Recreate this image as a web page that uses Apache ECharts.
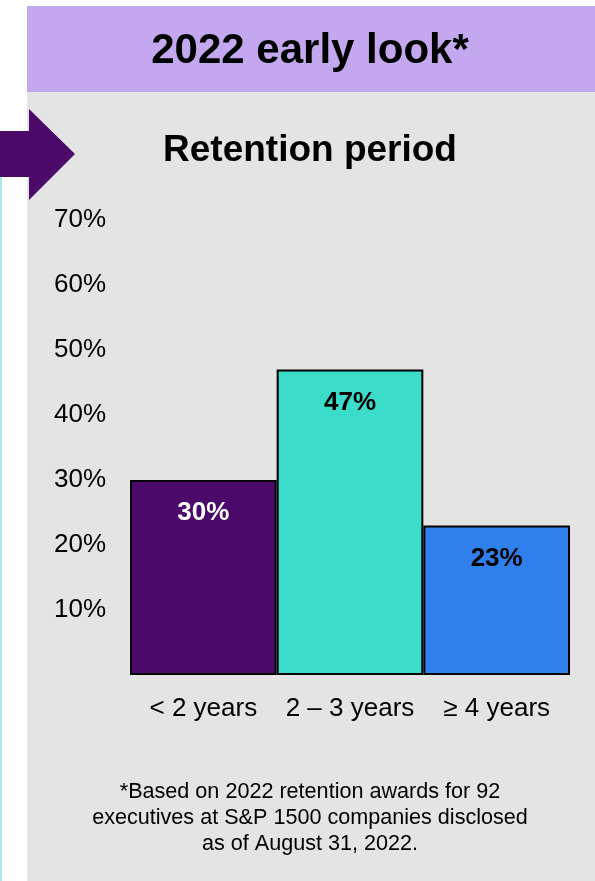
<!DOCTYPE html>
<html>
  <head>
    <meta charset="utf-8" />
    <title>ECharts</title>
    <script src="https://cdn.jsdelivr.net/npm/echarts@6/dist/echarts.min.js"></script>
    <style>
      html, body { margin: 0; padding: 0; background: #fff; }
    </style>
  </head>
  <body>
    <div id="main" style="width: 595px;height:881px;"></div>
    <script type="text/javascript">
      // data
      var categories = ['< 2 years', '2 – 3 years', '≥ 4 years'];
      var shares = [30, 47, 23];
      var barColors = ['#4b0a6a', '#3cdccb', '#2f80ed'];
      var labelColors = ['#ffffff', '#000000', '#000000'];
      var footnote = [
        '*Based on 2022 retention awards for 92',
        'executives at S&P 1500 companies disclosed',
        'as of August 31, 2022.'
      ];

      var myChart = echarts.init(document.getElementById('main'));
      var font = '"Liberation Sans", Arial, sans-serif';

      function centerText(str, y, size, bold) {
        return {
          type: 'text',
          style: {
            text: str, x: 310, y: y,
            textAlign: 'center', textVerticalAlign: 'middle',
            font: (bold ? 'bold ' : '') + size + 'px ' + font,
            fill: '#000'
          }
        };
      }

      var graphics = [
        // grey panel + purple header
        { type: 'rect', z: -10, shape: { x: 27, y: 92, width: 568, height: 789 }, style: { fill: '#e4e4e4' } },
        { type: 'rect', z: -10, shape: { x: 27, y: 6, width: 568, height: 86 }, style: { fill: '#c3a8f0' } },
        // thin cyan rule on the left edge
        { type: 'rect', z: -10, shape: { x: 0, y: 177, width: 2, height: 704 }, style: { fill: '#a8e8e8' } },
        // arrow
        {
          type: 'polygon', z: -5,
          shape: { points: [[0, 131], [29, 131], [29, 109], [75, 154], [29, 200], [29, 177], [0, 177]] },
          style: { fill: '#4b0a6a' }
        },
        centerText('2022 early look*', 51, 42, true),
        centerText('Retention period', 151, 37, true)
      ];
      footnote.forEach(function (line, i) {
        graphics.push(centerText(line, 792 + i * 26, 21.6, false));
      });

      option = {
        backgroundColor: '#ffffff',
        textStyle: { fontFamily: font },
        graphic: graphics,
        grid: { left: 130, right: 25, top: 220, bottom: 206, containLabel: false },
        xAxis: {
          type: 'category',
          data: categories,
          axisLine: { show: false },
          axisTick: { show: false },
          axisLabel: { color: '#000', fontSize: 26, margin: 21, interval: 0, fontFamily: font }
        },
        yAxis: {
          type: 'value',
          min: 0, max: 70, interval: 10,
          splitLine: { show: false },
          axisLine: { show: false },
          axisTick: { show: false },
          axisLabel: {
            color: '#000', fontSize: 26, margin: 24, fontFamily: font,
            showMinLabel: false,
            formatter: '{value}%'
          }
        },
        series: [{
          type: 'bar',
          barCategoryGap: '0%',
          data: shares.map(function (v, i) {
            return {
              value: v,
              itemStyle: { color: barColors[i] },
              label: { color: labelColors[i] }
            };
          }),
          itemStyle: { borderColor: '#000', borderWidth: 2 },
          label: {
            show: true,
            position: 'insideTop',
            distance: 20,
            fontSize: 26,
            fontWeight: 'bold',
            fontFamily: font,
            formatter: '{c}%'
          }
        }]
      };

      myChart.setOption(option);
    </script>
  </body>
</html>
